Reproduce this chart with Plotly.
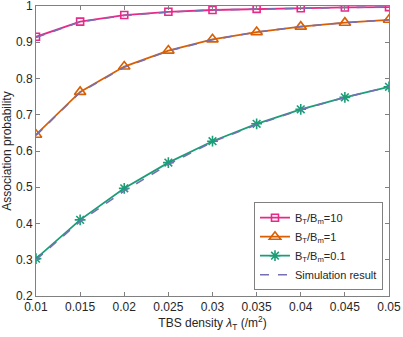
import plotly.graph_objects as go

# TBS density (/m^2)
density = [0.01, 0.015, 0.02, 0.025, 0.03, 0.035, 0.04, 0.045, 0.05]

# analytical association probability
p_ratio10 = [0.915, 0.957, 0.975, 0.984, 0.989, 0.992, 0.994, 0.996, 0.997]
p_ratio1 = [0.645, 0.763, 0.833, 0.877, 0.908, 0.928, 0.943, 0.954, 0.962]
p_ratio01 = [0.303, 0.410, 0.497, 0.568, 0.627, 0.675, 0.715, 0.748, 0.777]

# simulation results
sim_ratio10 = [0.913, 0.956, 0.974, 0.983, 0.989, 0.992, 0.994, 0.996, 0.997]
sim_ratio1 = [0.643, 0.762, 0.831, 0.876, 0.907, 0.928, 0.943, 0.954, 0.962]
sim_ratio01 = [0.300, 0.406, 0.490, 0.563, 0.625, 0.673, 0.714, 0.748, 0.777]

x_ticks = [0.01, 0.015, 0.02, 0.025, 0.03, 0.035, 0.04, 0.045, 0.05]
x_labels = ['0.01', '0.015', '0.02', '0.025', '0.03', '0.035', '0.04', '0.045', '0.05']
y_ticks = [0.2, 0.3, 0.4, 0.5, 0.6, 0.7, 0.8, 0.9, 1.0]
y_labels = ['0.2', '0.3', '0.4', '0.5', '0.6', '0.7', '0.8', '0.9', '1']

font = 'Liberation Sans, Arial, sans-serif'
sim_color = '#7570b3'

fig = go.Figure()

analysis = [
    (p_ratio10, 'B<sub>T</sub>/B<sub>m</sub>=10', '#e7298a', 'square-open', 7),
    (p_ratio1, 'B<sub>T</sub>/B<sub>m</sub>=1', '#d95f02', 'triangle-up-open', 10),
    (p_ratio01, 'B<sub>T</sub>/B<sub>m</sub>=0.1', '#1b9e77', 'asterisk-open', 9),
]
for ys, name, color, symbol, size in analysis:
    fig.add_trace(go.Scatter(x=density, y=ys, name=name, mode='lines+markers',
                             line=dict(color=color, width=1.8),
                             marker=dict(symbol=symbol, size=size, color=color,
                                         line=dict(color=color, width=1.6))))

for i, ys in enumerate([sim_ratio10, sim_ratio1, sim_ratio01]):
    fig.add_trace(go.Scatter(x=density, y=ys, name='Simulation result', mode='lines',
                             showlegend=(i == 0),
                             line=dict(color=sim_color, width=1.6, dash='dash')))

axis_common = dict(showline=True, linecolor='#808080', linewidth=1, mirror='ticks',
                   ticks='inside', ticklen=4, tickcolor='#808080', showgrid=False,
                   zeroline=False, automargin=False, ticklabeloverflow='allow',
                   tickfont=dict(family=font, size=12, color='#262626'))

fig.update_layout(
    width=403, height=337,
    margin=dict(l=36, r=14, t=6, b=41),
    paper_bgcolor='white', plot_bgcolor='white',
    font=dict(family=font, size=12, color='#262626'),
    xaxis=dict(range=[0.01, 0.05], tickvals=x_ticks, ticktext=x_labels,
               title=dict(text='TBS density <i>λ</i><sub>T</sub> (/m<sup>2</sup>)',
                          font=dict(size=12), standoff=4),
               **axis_common),
    yaxis=dict(range=[0.2, 1.0], tickvals=y_ticks, ticktext=y_labels,
               title=dict(text='Association probability', font=dict(size=12), standoff=4),
               **axis_common),
    legend=dict(x=0.983, y=0.02, xanchor='right', yanchor='bottom',
                bgcolor='white', bordercolor='#808080', borderwidth=1,
                font=dict(family=font, size=11, color='#262626'),
                tracegroupgap=0, itemwidth=30),
    showlegend=True,
)

# drop the default page margin so the figure sits at the window corner
fig.write_html("out.html", config={'displayModeBar': False},
               post_script="document.body.style.margin='0';")
